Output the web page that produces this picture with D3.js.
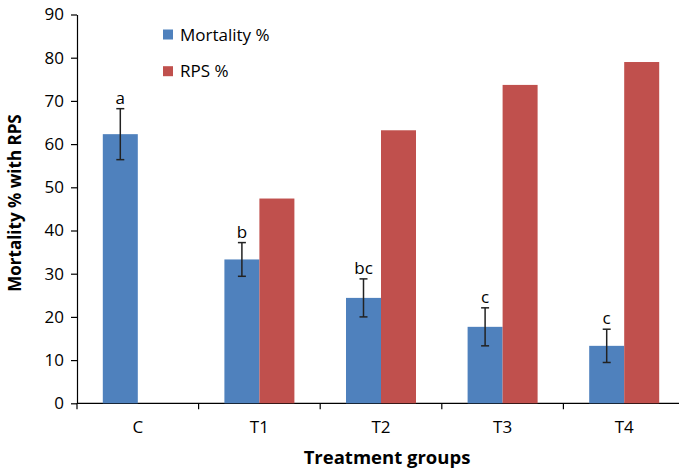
<!DOCTYPE html>
<html>
<head>
<meta charset="utf-8">
<script src="https://cdn.jsdelivr.net/npm/d3@7"></script>
<style>
  body { margin: 0; background: #fff; }
  text { font-family: "Open Sans", "Liberation Sans", sans-serif; }
</style>
</head>
<body>
<div id="chart"></div>
<script>
var groups = ["C", "T1", "T2", "T3", "T4"];
var mortality = [62.3, 33.3, 24.4, 17.7, 13.3];
var mortalityErr = [5.9, 3.9, 4.4, 4.4, 3.85];
var rps = [null, 47.4, 63.2, 73.7, 79.0];
var letters = ["a", "b", "bc", "c", "c"];
var yTicks = [0, 10, 20, 30, 40, 50, 60, 70, 80, 90];

var width = 679, height = 470;
var margin = {top: 14.5, left: 77, bottom: 66.7};
var BAR_W = 35;
var blue = "#4F81BD", red = "#C0504D";

var svg = d3.select("#chart").append("svg")
    .attr("width", width)
    .attr("height", height);

var x = d3.scaleBand().domain(groups).range([margin.left, margin.left + 121.6 * groups.length]);
var y = d3.scaleLinear().domain([0, 90]).range([height - margin.bottom, margin.top]);

// y axis
var yAxis = svg.append("g")
    .attr("transform", "translate(" + margin.left + ",0)")
    .call(d3.axisLeft(y).tickValues(yTicks).tickSize(6).tickSizeOuter(0));
yAxis.select(".domain").attr("stroke", "#000").attr("stroke-width", 1.2);
yAxis.selectAll(".tick line").attr("stroke", "#000").attr("stroke-width", 1.2);
yAxis.selectAll("text").attr("font-size", 17).attr("fill", "#000").attr("x", -13);

// x axis: ticks at category boundaries
var xAxisG = svg.append("g").attr("transform", "translate(0," + y(0) + ")");
xAxisG.append("line")
    .attr("x1", margin.left).attr("x2", x.range()[1])
    .attr("stroke", "#000").attr("stroke-width", 1.2);
xAxisG.selectAll(".xt").data(groups).enter().append("line")
    .attr("x1", function(d) { return x(d); })
    .attr("x2", function(d) { return x(d); })
    .attr("y1", 0).attr("y2", 6)
    .attr("stroke", "#000").attr("stroke-width", 1.2);
xAxisG.selectAll(".xl").data(groups).enter().append("text")
    .attr("x", function(d) { return x(d) + x.bandwidth() / 2; })
    .attr("y", 30)
    .attr("text-anchor", "middle")
    .attr("font-size", 17)
    .text(function(d) { return d; });

// bars
svg.selectAll(".mort").data(groups).enter().append("rect")
    .attr("x", function(d) { return x(d) + x.bandwidth() / 2 - BAR_W; })
    .attr("y", function(d, i) { return y(mortality[i]); })
    .attr("width", BAR_W)
    .attr("height", function(d, i) { return y(0) - y(mortality[i]); })
    .attr("fill", blue);

svg.selectAll(".rps").data(groups.filter(function(d, i) { return rps[i] != null; })).enter().append("rect")
    .attr("x", function(d) { return x(d) + x.bandwidth() / 2; })
    .attr("y", function(d) { return y(rps[groups.indexOf(d)]); })
    .attr("width", BAR_W)
    .attr("height", function(d) { return y(0) - y(rps[groups.indexOf(d)]); })
    .attr("fill", red);

// error bars
var err = svg.selectAll(".err").data(groups).enter().append("g")
    .attr("transform", function(d) { return "translate(" + (x(d) + x.bandwidth() / 2 - BAR_W / 2) + ",0)"; });
err.append("line")
    .attr("y1", function(d, i) { return y(mortality[i] + mortalityErr[i]); })
    .attr("y2", function(d, i) { return y(mortality[i] - mortalityErr[i]); })
    .attr("stroke", "#222").attr("stroke-width", 1.5);
[1, -1].forEach(function(s) {
    err.append("line")
        .attr("x1", -4).attr("x2", 4)
        .attr("y1", function(d, i) { return y(mortality[i] + s * mortalityErr[i]); })
        .attr("y2", function(d, i) { return y(mortality[i] + s * mortalityErr[i]); })
        .attr("stroke", "#222").attr("stroke-width", 1.5);
});
err.append("text")
    .attr("y", function(d, i) { return y(mortality[i] + mortalityErr[i]) - 5; })
    .attr("text-anchor", "middle")
    .attr("font-size", 17)
    .text(function(d, i) { return letters[i]; });

// legend
var legend = [{name: "Mortality %", color: blue}, {name: "RPS %", color: red}];
var lg = svg.selectAll(".lg").data(legend).enter().append("g")
    .attr("transform", function(d, i) { return "translate(163," + (29.5 + i * 36.7) + ")"; });
lg.append("rect").attr("width", 10).attr("height", 10).attr("fill", function(d) { return d.color; });
lg.append("text").attr("x", 17).attr("y", 11).attr("font-size", 17).text(function(d) { return d.name; });

// axis titles
svg.append("text")
    .attr("transform", "translate(21,203) rotate(-90)")
    .attr("text-anchor", "middle")
    .attr("font-size", 17).attr("font-weight", "bold")
    .text("Mortality % with RPS");
svg.append("text")
    .attr("x", 387).attr("y", 464)
    .attr("text-anchor", "middle")
    .attr("font-size", 18.5).attr("font-weight", "bold")
    .text("Treatment groups");
</script>
</body>
</html>
